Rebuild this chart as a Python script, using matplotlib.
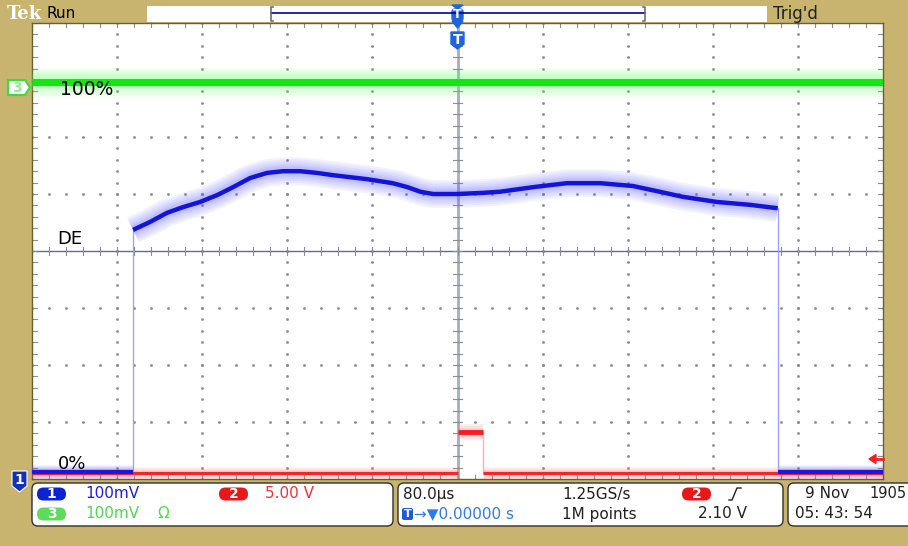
# Tela de osciloscópio Tek: CH1 (azul), CH2 (vermelho), CH3 (verde)

import matplotlib
matplotlib.use("Agg")
import matplotlib.pyplot as plt
from matplotlib.patches import FancyBboxPatch, Polygon, Rectangle

plt.rcParams['font.family'] = ['DejaVu Sans']

# ===============================
# 1) DADOS (tempo em µs, amplitude em divisões)
# ===============================
ch1_t = [-305, -289, -273, -258, -242, -226, -211, -195, -179, -164, -148, -132,
         -117, -85, -61, -47, -35, -23, 0, 24, 40, 71, 103, 134, 165, 190, 212,
         244, 275, 301]
ch1_v = [0.37, 0.51, 0.67, 0.77, 0.86, 0.98, 1.12, 1.28, 1.37, 1.40, 1.40, 1.37,
         1.33, 1.26, 1.19, 1.12, 1.04, 1.00, 1.00, 1.02, 1.04, 1.12, 1.19, 1.19,
         1.14, 1.04, 0.95, 0.86, 0.81, 0.75]
ch1_base = -3.88
ch3_level = 2.96
ch2_base = -3.90
ch2_high = -3.18
ch2_pulse = [0, 24]

labels = ["100%", "DE", "0%"]

# ===============================
# 2) FIGURA
# ===============================
tan = '#C8B46E'
fig = plt.figure(figsize=(9.08, 5.46), dpi=100, facecolor=tan)
ax = fig.add_axes([32 / 908, 1 - 479 / 546, 851 / 908, 456 / 546])
ax.set_xlim(-400, 400)
ax.set_ylim(-4, 4)
ax.set_facecolor('white')
for s in ax.spines.values():
    s.set_color('#6E5E2E')
    s.set_linewidth(1.0)
ax.set_xticks([])
ax.set_yticks([])

# graticula pontilhada
dv = 80
for k in range(-4, 5):
    if k == 0:
        continue
    ys = [j * 0.2 for j in range(-20, 21)]
    ax.plot([k * dv] * len(ys), ys, ls='none', marker='s', ms=0.9, color='#8C8C8C', zorder=1)
for j in range(-3, 4):
    if j == 0:
        continue
    xs = [i * 16 for i in range(-25, 26)]
    ax.plot(xs, [j] * len(xs), ls='none', marker='s', ms=0.9, color='#8C8C8C', zorder=1)

# linhas centrais com marcações
ax.axhline(0, color='#5A6C9C', lw=1.0, zorder=2)
ax.axvline(0, color='#A4ACC4', lw=2.0, zorder=2)
for i in range(-25, 26):
    x = i * 16
    ax.plot([x, x], [-0.07, 0.07], color='#8C8C8C', lw=0.8, zorder=2)
    ax.plot([x, x], [4, 3.93], color='#8C8C8C', lw=0.8, zorder=2)
    ax.plot([x, x], [-4, -3.93], color='#8C8C8C', lw=0.8, zorder=2)
for j in range(-20, 21):
    y = j * 0.2
    ax.plot([-4, 4], [y, y], color='#8C8C8C', lw=0.8, zorder=2)
    ax.plot([-400, -395], [y, y], color='#8C8C8C', lw=0.8, zorder=2)
    ax.plot([400, 395], [y, y], color='#8C8C8C', lw=0.8, zorder=2)


def trace(x, y, core, halo, lw, spread):
    # halo difuso em camadas (efeito de persistência do osciloscópio)
    for f in [1.0, 0.85, 0.7, 0.55, 0.42, 0.32]:
        ax.plot(x, y, color=halo, lw=spread * f, alpha=0.08, solid_capstyle='butt', zorder=3)
    ax.plot(x, y, color=core, lw=lw, solid_capstyle='butt', zorder=4)


# CH3 verde (100%)
trace([-400, 400], [ch3_level, ch3_level], '#10E810', '#60FF60', 5.0, 21)

# CH2 vermelho
trace([-400, ch2_pulse[0]], [ch2_base, ch2_base], '#F02828', '#FF7070', 2.2, 9)
trace(ch2_pulse, [ch2_high, ch2_high], '#F02020', '#FF7070', 3.5, 12)
trace([ch2_pulse[1], 400], [ch2_base, ch2_base], '#F02828', '#FF7070', 2.2, 9)
ax.plot([ch2_pulse[1]] * 2, [ch2_base, ch2_high], color='#FFB0B0', lw=1.0, zorder=3)

# CH1 azul
trace([-400, ch1_t[0]], [ch1_base, ch1_base], '#1818E0', '#6060FF', 3.0, 10)
trace([ch1_t[-1], 400], [ch1_base, ch1_base], '#1818E0', '#6060FF', 3.0, 10)
ax.plot([ch1_t[0]] * 2, [ch1_base, ch1_v[0]], color='#9C9CFF', lw=0.9, zorder=3)
ax.plot([ch1_t[-1]] * 2, [ch1_base, ch1_v[-1]], color='#9C9CFF', lw=0.9, zorder=3)
trace(ch1_t, ch1_v, '#1414D8', '#5C5CFF', 3.2, 20)

# rótulos de nível
ax.text(-374, ch3_level - 0.12, labels[0], fontsize=13.5, va='center', ha='left', color='black', zorder=6)
ax.text(-376, 0.21, labels[1], fontsize=13, va='center', ha='left', color='black', zorder=6)
ax.text(-376, ch1_base + 0.15, labels[2], fontsize=13, va='center', ha='left', color='black', zorder=6)

# ===============================
# 3) SOBREPOSIÇÃO EM PIXELS (barras e painéis)
# ===============================
ov = fig.add_axes([0, 0, 1, 1], zorder=5)
ov.set_xlim(0, 908)
ov.set_ylim(546, 0)
ov.axis('off')
ov.patch.set_alpha(0)

# barra superior
ov.text(7, 14, "Tek", fontsize=13, fontweight='bold', family='DejaVu Serif',
        color='white', va='center', ha='left')
ov.text(47, 14, "Run", fontsize=11, color='black', va='center', ha='left')
ov.add_patch(Rectangle((147, 6), 620, 16, facecolor='white', edgecolor='none'))
ov.plot([271, 645], [13, 13], color='#0000B4', lw=1.2)
ov.plot([273, 271, 271, 273], [7, 7, 21, 21], color='#707070', lw=1.2)
ov.plot([643, 645, 645, 643], [7, 7, 21, 21], color='#707070', lw=1.2)
ov.text(773, 14, "Trig'd", fontsize=12, color='#202020', va='center', ha='left')

# marcador de trigger (T)
blue_t = '#1E64E0'
ov.add_patch(Polygon([(452, 5), (463, 5), (457.5, 9)], color=blue_t))
ov.add_patch(FancyBboxPatch((452, 9), 11, 12, boxstyle='round,pad=0,rounding_size=3', color=blue_t))
ov.add_patch(Polygon([(452, 21), (463, 21), (457.5, 28)], color=blue_t))
ov.text(457.5, 15, "T", fontsize=9, fontweight='bold', color='white', ha='center', va='center')
ov.add_patch(Polygon([(451, 32), (464, 32), (464, 44), (457.5, 49), (451, 44)], color=blue_t))
ov.text(457.5, 39.5, "T", fontsize=10, fontweight='bold', color='white', ha='center', va='center')

# marcador CH3
ov.add_patch(Polygon([(8, 80), (25, 80), (30, 87.5), (25, 95), (8, 95)],
                     facecolor='white', edgecolor='#34E034', lw=1.5))
ov.text(16.5, 87.5, "3", fontsize=10, fontweight='bold', color='#8CF08C', ha='center', va='center')

# marcador CH1
ov.add_patch(Polygon([(12, 471), (27, 471), (27, 486), (19.5, 492), (12, 486)],
                     facecolor='#1430B8', edgecolor='white', lw=0.8))
ov.text(19.5, 480, "1", fontsize=10, fontweight='bold', color='white', ha='center', va='center')

# seta de nível de trigger
ov.add_patch(Polygon([(869, 459), (876, 454.5), (876, 463.5)], color='#F02020'))
ov.plot([875, 883], [459, 459], color='#F02020', lw=2)

# painéis inferiores
for x0, w in [(32, 361), (398, 385), (788, 140)]:
    ov.add_patch(FancyBboxPatch((x0, 483), w, 43, boxstyle='round,pad=0,rounding_size=6',
                                facecolor='white', edgecolor='#303030', lw=1.0))


def pill(x0, y0, txt, color):
    ov.add_patch(FancyBboxPatch((x0, y0), 29, 13, boxstyle='round,pad=0,rounding_size=6.5',
                                facecolor=color, edgecolor='none'))
    ov.text(x0 + 14.5, y0 + 6.5, txt, fontsize=10, fontweight='bold', color='white',
            ha='center', va='center')


fs = 11
pill(37, 487.5, "1", '#0A24D2')
ov.text(85, 494, "100mV", fontsize=fs, color='#1E1EE6', va='center')
pill(219, 487.5, "2", '#E81818')
ov.text(265, 494, "5.00 V", fontsize=fs, color='#F03232', va='center')
pill(37, 507.5, "3", '#5CDC5C')
ov.text(85, 514, "100mV", fontsize=fs, color='#50D850', va='center')
ov.text(157, 514, "Ω", fontsize=fs, color='#50D850', va='center')

ov.text(403, 494, "80.0µs", fontsize=fs, color='#202020', va='center')
ov.text(562, 494, "1.25GS/s", fontsize=fs, color='#202020', va='center')
pill(682, 487.5, "2", '#E81818')
ov.plot([729, 732, 737, 741], [500, 500, 488, 488], color='#202020', lw=1.0)
ov.add_patch(FancyBboxPatch((402, 508), 11, 12, boxstyle='round,pad=0,rounding_size=2',
                            facecolor='#1E5BD8', edgecolor='none'))
ov.text(407.5, 514, "T", fontsize=8, fontweight='bold', color='white', ha='center', va='center')
ov.text(414, 514, "→▼0.00000 s", fontsize=fs, color='#2E7BEF', va='center')
ov.text(562, 514, "1M points", fontsize=fs, color='#202020', va='center')
ov.text(698, 514, "2.10 V", fontsize=fs, color='#202020', va='center')

ov.text(805, 494, "9 Nov", fontsize=fs, color='#202020', va='center')
ov.text(869, 494, "1905", fontsize=10.5, color='#202020', va='center')
ov.text(795, 514, "05: 43: 54", fontsize=fs, color='#202020', va='center')

fig.savefig("out.png", dpi=100, facecolor=tan)
